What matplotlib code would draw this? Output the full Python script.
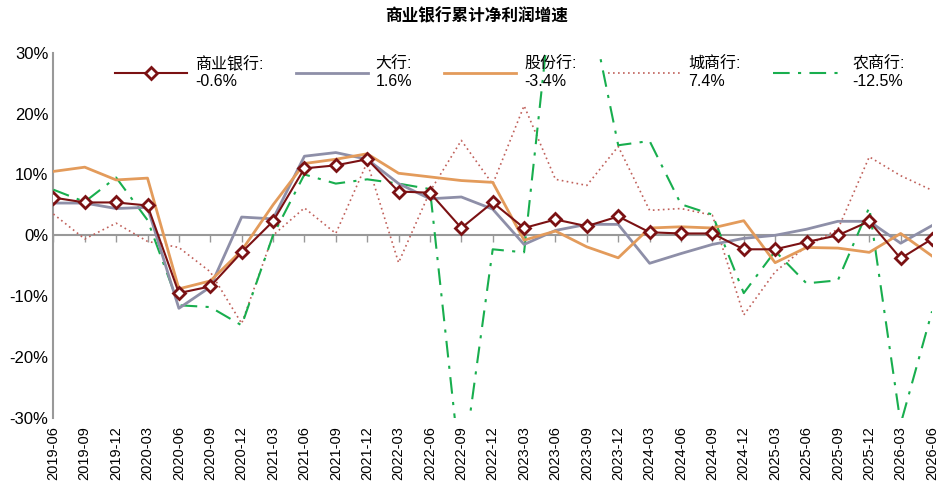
import matplotlib
matplotlib.use("Agg")
import matplotlib.pyplot as plt
import numpy as np

plt.rcParams['font.family'] = ['Liberation Sans', 'Noto Sans CJK SC', 'DejaVu Sans']

dates = ["2019-06","2019-09","2019-12","2020-03","2020-06","2020-09","2020-12","2021-03","2021-06","2021-09","2021-12",
         "2022-03","2022-06","2022-09","2022-12","2023-03","2023-06","2023-09","2023-12","2024-03","2024-06","2024-09",
         "2024-12","2025-03","2025-06","2025-09","2025-12","2026-03","2026-06"]
commercial = [6.2,5.4,5.4,4.9,-9.5,-8.4,-2.8,2.3,11.0,11.5,12.5,7.2,7.0,1.2,5.4,1.2,2.6,1.5,3.1,0.5,0.3,0.3,-2.3,-2.3,-1.1,0.0,2.3,-3.8,-0.6]
big = [5.3,5.3,4.4,4.6,-12.0,-8.5,3.0,2.7,13.0,13.6,12.5,8.5,6.0,6.3,4.3,-1.5,0.8,1.8,1.8,-4.6,-3.0,-1.5,-0.5,0.0,1.0,2.3,2.3,-1.3,1.6]
joint = [10.5,11.2,9.1,9.4,-8.8,-7.5,-2.5,5.0,11.8,12.5,13.4,10.2,9.6,9.0,8.7,-0.8,0.7,-1.9,-3.7,1.2,1.4,1.2,2.4,-4.5,-2.0,-2.1,-2.8,0.3,-3.4]
city = [3.5,-0.6,2.0,-1.0,-2.0,-6.0,-14.5,0.0,4.5,0.3,12.0,-4.5,7.2,15.6,8.4,21.3,9.2,8.2,14.6,4.1,4.4,3.3,-13.1,-6.0,-1.8,1.0,12.9,9.8,7.4]
rural = [7.5,5.5,9.5,2.5,-11.5,-11.8,-14.8,0.0,10.0,8.5,9.2,8.5,7.6,-40.0,-2.3,-2.8,45.0,40.0,14.8,15.5,5.1,3.4,-9.5,-2.6,-7.9,-7.4,4.6,-31.0,-12.5]

fig = plt.figure(figsize=(9.53,4.98), dpi=100)
ax = fig.add_axes([0.056,0.161,0.922,0.733])
x = np.arange(len(dates))

ax.plot(x, commercial, color='#7B1113', lw=1.5, marker='D', ms=6, mfc='white', mec='#7B1113', mew=2,
        label='商业银行:\n-0.6%', zorder=6)
ax.plot(x, big, color='#8E8FA8', lw=2, label='大行:\n1.6%', zorder=4)
ax.plot(x, joint, color='#E39B5B', lw=2, label='股份行:\n-3.4%', zorder=5)
ax.plot(x, city, color='#C0605A', lw=1.2, ls=(0,(1,2)), label='城商行:\n7.4%', zorder=3)
ax.plot(x, rural, color='#18AE4E', lw=1.5, ls=(0,(8,4,1.5,4)), label='农商行:\n-12.5%', zorder=3)

ax.axhline(0, color='#999999', lw=1.5, zorder=2)
ax.plot(x, [0]*len(x), ls='none', marker=3, ms=5, color='#999999', zorder=2)

ax.set_xlim(0, len(dates)-1)
ax.set_ylim(-30, 30)
ax.set_yticks([-30,-20,-10,0,10,20,30])
ax.set_yticklabels(['-30%','-20%','-10%','0%','10%','20%','30%'], fontsize=12)
ax.set_xticks(x)
ax.set_xticklabels(dates, rotation=90, fontsize=10.5)
ax.tick_params(axis='both', length=0)
ax.tick_params(axis='x', pad=6)
for s in ['top','right','bottom']:
    ax.spines[s].set_visible(False)
ax.spines['left'].set_color('#999999')
ax.spines['left'].set_linewidth(1.5)

ax.legend(loc='upper center', bbox_to_anchor=(0.52, 1.03), ncol=5, frameon=False, fontsize=11.5,
          handlelength=4.5, columnspacing=2.0, handletextpad=0.5)
fig.suptitle('商业银行累计净利润增速', fontsize=12, fontweight='bold', y=0.985)
fig.savefig('out.png', dpi=100)
